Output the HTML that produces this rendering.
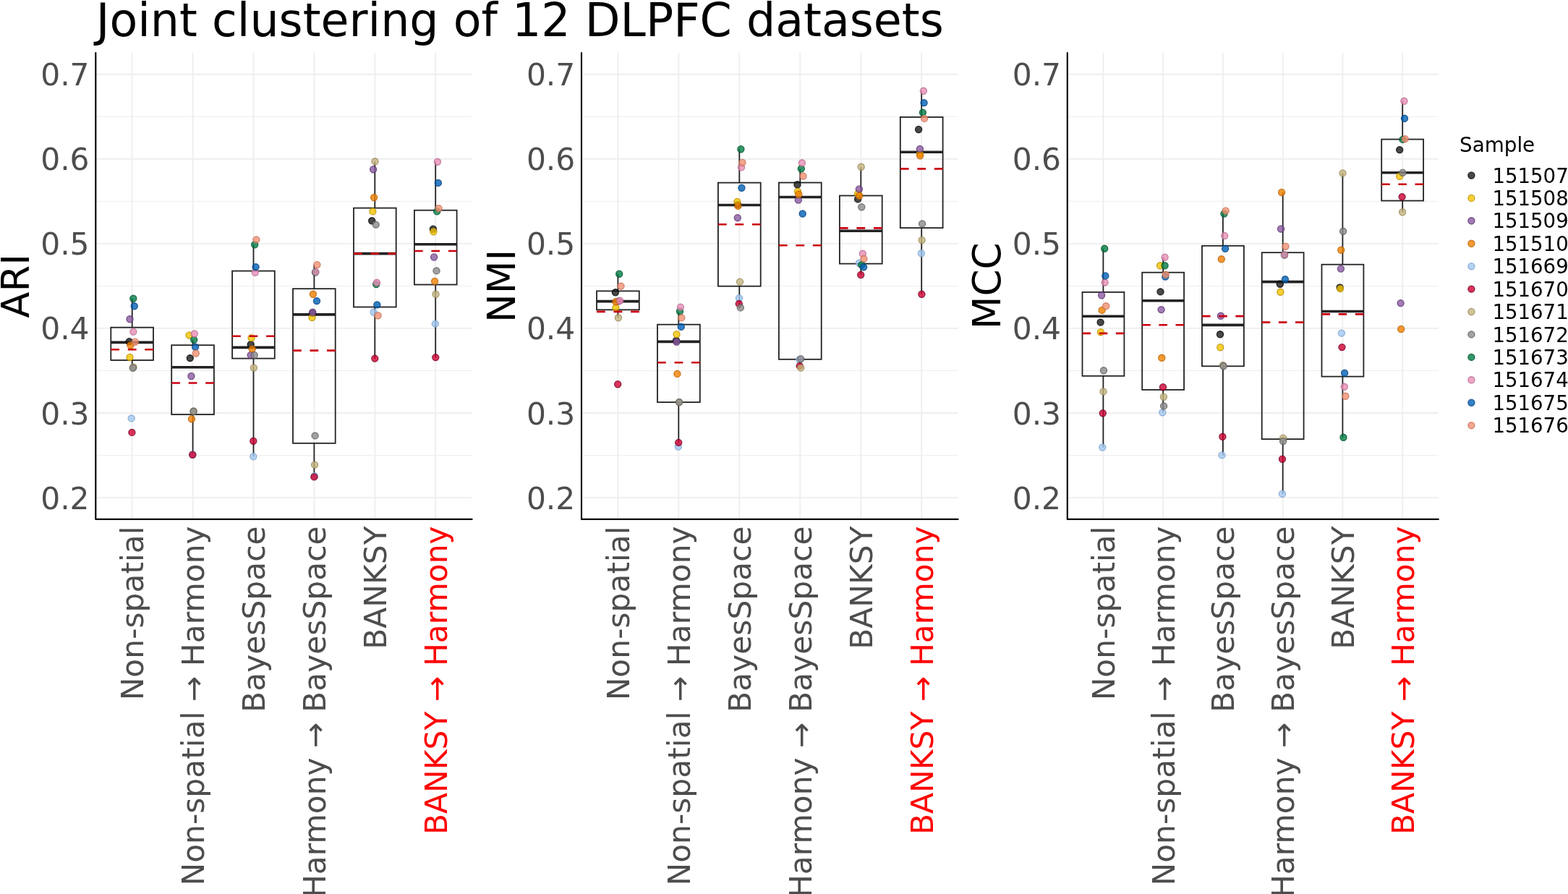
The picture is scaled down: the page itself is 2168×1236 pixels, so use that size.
<!DOCTYPE html>
<html><head><meta charset="utf-8"><title>Joint clustering of 12 DLPFC datasets</title>
<style>html,body{margin:0;padding:0;background:#fff;overflow:hidden}
svg{display:block;font-family:"DejaVu Sans","Liberation Sans",sans-serif}</style></head>
<body>
<svg width="2168" height="1236" viewBox="0 0 2168 1236">
<rect width="2168" height="1236" fill="#fff"/>
<text x="132.7" y="49.6" font-size="63.4" fill="#000">Joint clustering of 12 DLPFC datasets</text>
<line x1="132.3" y1="629.6" x2="652.6" y2="629.6" stroke="#EDEDED" stroke-width="1.0"/>
<line x1="132.3" y1="512.5" x2="652.6" y2="512.5" stroke="#EDEDED" stroke-width="1.0"/>
<line x1="132.3" y1="395.4" x2="652.6" y2="395.4" stroke="#EDEDED" stroke-width="1.0"/>
<line x1="132.3" y1="278.3" x2="652.6" y2="278.3" stroke="#EDEDED" stroke-width="1.0"/>
<line x1="132.3" y1="161.2" x2="652.6" y2="161.2" stroke="#EDEDED" stroke-width="1.0"/>
<line x1="132.3" y1="688.1" x2="652.6" y2="688.1" stroke="#EEEEEE" stroke-width="1.9"/>
<line x1="132.3" y1="571.0" x2="652.6" y2="571.0" stroke="#EEEEEE" stroke-width="1.9"/>
<line x1="132.3" y1="453.9" x2="652.6" y2="453.9" stroke="#EEEEEE" stroke-width="1.9"/>
<line x1="132.3" y1="336.9" x2="652.6" y2="336.9" stroke="#EEEEEE" stroke-width="1.9"/>
<line x1="132.3" y1="219.8" x2="652.6" y2="219.8" stroke="#EEEEEE" stroke-width="1.9"/>
<line x1="132.3" y1="102.7" x2="652.6" y2="102.7" stroke="#EEEEEE" stroke-width="1.9"/>
<line x1="182.7" y1="73.0" x2="182.7" y2="717.9" stroke="#EEEEEE" stroke-width="1.9"/>
<line x1="266.6" y1="73.0" x2="266.6" y2="717.9" stroke="#EEEEEE" stroke-width="1.9"/>
<line x1="350.5" y1="73.0" x2="350.5" y2="717.9" stroke="#EEEEEE" stroke-width="1.9"/>
<line x1="434.4" y1="73.0" x2="434.4" y2="717.9" stroke="#EEEEEE" stroke-width="1.9"/>
<line x1="518.3" y1="73.0" x2="518.3" y2="717.9" stroke="#EEEEEE" stroke-width="1.9"/>
<line x1="602.2" y1="73.0" x2="602.2" y2="717.9" stroke="#EEEEEE" stroke-width="1.9"/>
<text x="123.6" y="703.6" font-size="42.4" fill="#4D4D4D" text-anchor="end">0.2</text>
<text x="123.6" y="586.5" font-size="42.4" fill="#4D4D4D" text-anchor="end">0.3</text>
<text x="123.6" y="469.4" font-size="42.4" fill="#4D4D4D" text-anchor="end">0.4</text>
<text x="123.6" y="352.3" font-size="42.4" fill="#4D4D4D" text-anchor="end">0.5</text>
<text x="123.6" y="235.2" font-size="42.4" fill="#4D4D4D" text-anchor="end">0.6</text>
<text x="123.6" y="118.2" font-size="42.4" fill="#4D4D4D" text-anchor="end">0.7</text>
<text transform="translate(39.8,395.4) rotate(-90)" font-size="53.0" fill="#000" text-anchor="middle">ARI</text>
<text transform="translate(198.1,727.4) rotate(-90)" font-size="42.4" fill="#4D4D4D" text-anchor="end">Non-spatial</text>
<text transform="translate(282.0,727.4) rotate(-90)" font-size="42.4" fill="#4D4D4D" text-anchor="end">Non-spatial → Harmony</text>
<text transform="translate(365.9,727.4) rotate(-90)" font-size="42.4" fill="#4D4D4D" text-anchor="end">BayesSpace</text>
<text transform="translate(449.9,727.4) rotate(-90)" font-size="42.4" fill="#4D4D4D" text-anchor="end">Harmony → BayesSpace</text>
<text transform="translate(533.8,727.4) rotate(-90)" font-size="42.4" fill="#4D4D4D" text-anchor="end">BANKSY</text>
<text transform="translate(617.7,727.4) rotate(-90)" font-size="42.4" fill="#FF0000" text-anchor="end">BANKSY → Harmony</text>
<line x1="182.7" y1="412.7" x2="182.7" y2="452.7" stroke="#222" stroke-width="1.8"/>
<line x1="182.7" y1="498.0" x2="182.7" y2="508.7" stroke="#222" stroke-width="1.8"/>
<rect x="153.3" y="452.7" width="58.7" height="45.3" fill="none" stroke="#222" stroke-width="1.8"/>
<line x1="153.3" y1="473.4" x2="212.0" y2="473.4" stroke="#222" stroke-width="3.6"/>
<line x1="266.6" y1="469.7" x2="266.6" y2="477.2" stroke="#222" stroke-width="1.8"/>
<line x1="266.6" y1="573.1" x2="266.6" y2="628.5" stroke="#222" stroke-width="1.8"/>
<rect x="237.2" y="477.2" width="58.7" height="95.9" fill="none" stroke="#222" stroke-width="1.8"/>
<line x1="237.2" y1="507.7" x2="295.9" y2="507.7" stroke="#222" stroke-width="3.6"/>
<line x1="350.5" y1="338.3" x2="350.5" y2="374.6" stroke="#222" stroke-width="1.8"/>
<line x1="350.5" y1="495.6" x2="350.5" y2="631.1" stroke="#222" stroke-width="1.8"/>
<rect x="321.1" y="374.6" width="58.7" height="121.0" fill="none" stroke="#222" stroke-width="1.8"/>
<line x1="321.1" y1="480.4" x2="379.9" y2="480.4" stroke="#222" stroke-width="3.6"/>
<line x1="434.4" y1="366.1" x2="434.4" y2="399.2" stroke="#222" stroke-width="1.8"/>
<line x1="434.4" y1="612.8" x2="434.4" y2="659.4" stroke="#222" stroke-width="1.8"/>
<rect x="405.0" y="399.2" width="58.7" height="213.6" fill="none" stroke="#222" stroke-width="1.8"/>
<line x1="405.0" y1="434.9" x2="463.8" y2="434.9" stroke="#222" stroke-width="3.6"/>
<line x1="518.3" y1="223.3" x2="518.3" y2="287.6" stroke="#222" stroke-width="1.8"/>
<line x1="518.3" y1="424.5" x2="518.3" y2="495.6" stroke="#222" stroke-width="1.8"/>
<rect x="489.0" y="287.6" width="58.7" height="136.9" fill="none" stroke="#222" stroke-width="1.8"/>
<line x1="489.0" y1="350.6" x2="547.7" y2="350.6" stroke="#222" stroke-width="3.6"/>
<line x1="602.2" y1="223.8" x2="602.2" y2="290.7" stroke="#222" stroke-width="1.8"/>
<line x1="602.2" y1="393.5" x2="602.2" y2="494.1" stroke="#222" stroke-width="1.8"/>
<rect x="572.9" y="290.7" width="58.7" height="102.8" fill="none" stroke="#222" stroke-width="1.8"/>
<line x1="572.9" y1="337.8" x2="631.6" y2="337.8" stroke="#222" stroke-width="3.6"/>
<circle cx="178.7" cy="472.2" r="4.55" fill="#1A1A1A" fill-opacity="0.8" stroke="#000000" stroke-opacity="0.8" stroke-width="1.3"/>
<circle cx="179.5" cy="494.0" r="4.55" fill="#F2C300" fill-opacity="0.8" stroke="#BD9100" stroke-opacity="0.8" stroke-width="1.3"/>
<circle cx="179.5" cy="441.3" r="4.55" fill="#8B5BA1" fill-opacity="0.8" stroke="#5D3576" stroke-opacity="0.8" stroke-width="1.3"/>
<circle cx="180.4" cy="477.3" r="4.55" fill="#F08100" fill-opacity="0.8" stroke="#BC6000" stroke-opacity="0.8" stroke-width="1.3"/>
<circle cx="181.7" cy="578.4" r="4.55" fill="#A2C7EF" fill-opacity="0.8" stroke="#7BA2D0" stroke-opacity="0.8" stroke-width="1.3"/>
<circle cx="182.4" cy="597.9" r="4.55" fill="#D00031" fill-opacity="0.8" stroke="#770025" stroke-opacity="0.8" stroke-width="1.3"/>
<circle cx="184.5" cy="507.5" r="4.55" fill="#C4B47E" fill-opacity="0.8" stroke="#988857" stroke-opacity="0.8" stroke-width="1.3"/>
<circle cx="183.8" cy="508.7" r="4.55" fill="#8B8B8B" fill-opacity="0.8" stroke="#5E5E5E" stroke-opacity="0.8" stroke-width="1.3"/>
<circle cx="184.3" cy="412.7" r="4.55" fill="#007D45" fill-opacity="0.8" stroke="#00532D" stroke-opacity="0.8" stroke-width="1.3"/>
<circle cx="184.3" cy="458.6" r="4.55" fill="#E88DB6" fill-opacity="0.8" stroke="#B86A90" stroke-opacity="0.8" stroke-width="1.3"/>
<circle cx="185.8" cy="423.3" r="4.55" fill="#0060B5" fill-opacity="0.8" stroke="#004181" stroke-opacity="0.8" stroke-width="1.3"/>
<circle cx="186.8" cy="472.7" r="4.55" fill="#F19072" fill-opacity="0.8" stroke="#C67055" stroke-opacity="0.8" stroke-width="1.3"/>
<circle cx="262.8" cy="495.1" r="4.55" fill="#1A1A1A" fill-opacity="0.8" stroke="#000000" stroke-opacity="0.8" stroke-width="1.3"/>
<circle cx="261.6" cy="463.5" r="4.55" fill="#F2C300" fill-opacity="0.8" stroke="#BD9100" stroke-opacity="0.8" stroke-width="1.3"/>
<circle cx="264.4" cy="520.0" r="4.55" fill="#8B5BA1" fill-opacity="0.8" stroke="#5D3576" stroke-opacity="0.8" stroke-width="1.3"/>
<circle cx="265.0" cy="579.2" r="4.55" fill="#F08100" fill-opacity="0.8" stroke="#BC6000" stroke-opacity="0.8" stroke-width="1.3"/>
<circle cx="266.3" cy="628.5" r="4.55" fill="#A2C7EF" fill-opacity="0.8" stroke="#7BA2D0" stroke-opacity="0.8" stroke-width="1.3"/>
<circle cx="266.3" cy="628.7" r="4.55" fill="#D00031" fill-opacity="0.8" stroke="#770025" stroke-opacity="0.8" stroke-width="1.3"/>
<circle cx="267.6" cy="568.4" r="4.55" fill="#C4B47E" fill-opacity="0.8" stroke="#988857" stroke-opacity="0.8" stroke-width="1.3"/>
<circle cx="267.6" cy="568.8" r="4.55" fill="#8B8B8B" fill-opacity="0.8" stroke="#5E5E5E" stroke-opacity="0.8" stroke-width="1.3"/>
<circle cx="268.2" cy="469.7" r="4.55" fill="#007D45" fill-opacity="0.8" stroke="#00532D" stroke-opacity="0.8" stroke-width="1.3"/>
<circle cx="268.8" cy="461.5" r="4.55" fill="#E88DB6" fill-opacity="0.8" stroke="#B86A90" stroke-opacity="0.8" stroke-width="1.3"/>
<circle cx="270.1" cy="479.7" r="4.55" fill="#0060B5" fill-opacity="0.8" stroke="#004181" stroke-opacity="0.8" stroke-width="1.3"/>
<circle cx="270.8" cy="488.5" r="4.55" fill="#F19072" fill-opacity="0.8" stroke="#C67055" stroke-opacity="0.8" stroke-width="1.3"/>
<circle cx="346.7" cy="476.3" r="4.55" fill="#1A1A1A" fill-opacity="0.8" stroke="#000000" stroke-opacity="0.8" stroke-width="1.3"/>
<circle cx="347.6" cy="467.3" r="4.55" fill="#F2C300" fill-opacity="0.8" stroke="#BD9100" stroke-opacity="0.8" stroke-width="1.3"/>
<circle cx="346.7" cy="490.9" r="4.55" fill="#8B5BA1" fill-opacity="0.8" stroke="#5D3576" stroke-opacity="0.8" stroke-width="1.3"/>
<circle cx="348.7" cy="482.6" r="4.55" fill="#F08100" fill-opacity="0.8" stroke="#BC6000" stroke-opacity="0.8" stroke-width="1.3"/>
<circle cx="350.3" cy="631.1" r="4.55" fill="#A2C7EF" fill-opacity="0.8" stroke="#7BA2D0" stroke-opacity="0.8" stroke-width="1.3"/>
<circle cx="350.3" cy="609.7" r="4.55" fill="#D00031" fill-opacity="0.8" stroke="#770025" stroke-opacity="0.8" stroke-width="1.3"/>
<circle cx="350.9" cy="508.5" r="4.55" fill="#C4B47E" fill-opacity="0.8" stroke="#988857" stroke-opacity="0.8" stroke-width="1.3"/>
<circle cx="351.7" cy="490.9" r="4.55" fill="#8B8B8B" fill-opacity="0.8" stroke="#5E5E5E" stroke-opacity="0.8" stroke-width="1.3"/>
<circle cx="352.2" cy="338.3" r="4.55" fill="#007D45" fill-opacity="0.8" stroke="#00532D" stroke-opacity="0.8" stroke-width="1.3"/>
<circle cx="352.8" cy="376.8" r="4.55" fill="#E88DB6" fill-opacity="0.8" stroke="#B86A90" stroke-opacity="0.8" stroke-width="1.3"/>
<circle cx="353.6" cy="369.1" r="4.55" fill="#0060B5" fill-opacity="0.8" stroke="#004181" stroke-opacity="0.8" stroke-width="1.3"/>
<circle cx="354.4" cy="331.4" r="4.55" fill="#F19072" fill-opacity="0.8" stroke="#C67055" stroke-opacity="0.8" stroke-width="1.3"/>
<circle cx="432.0" cy="433.0" r="4.55" fill="#1A1A1A" fill-opacity="0.8" stroke="#000000" stroke-opacity="0.8" stroke-width="1.3"/>
<circle cx="431.5" cy="439.1" r="4.55" fill="#F2C300" fill-opacity="0.8" stroke="#BD9100" stroke-opacity="0.8" stroke-width="1.3"/>
<circle cx="432.3" cy="431.8" r="4.55" fill="#8B5BA1" fill-opacity="0.8" stroke="#5D3576" stroke-opacity="0.8" stroke-width="1.3"/>
<circle cx="432.9" cy="406.8" r="4.55" fill="#F08100" fill-opacity="0.8" stroke="#BC6000" stroke-opacity="0.8" stroke-width="1.3"/>
<circle cx="434.8" cy="658.0" r="4.55" fill="#A2C7EF" fill-opacity="0.8" stroke="#7BA2D0" stroke-opacity="0.8" stroke-width="1.3"/>
<circle cx="434.4" cy="659.4" r="4.55" fill="#D00031" fill-opacity="0.8" stroke="#770025" stroke-opacity="0.8" stroke-width="1.3"/>
<circle cx="435.1" cy="642.6" r="4.55" fill="#C4B47E" fill-opacity="0.8" stroke="#988857" stroke-opacity="0.8" stroke-width="1.3"/>
<circle cx="435.6" cy="602.4" r="4.55" fill="#8B8B8B" fill-opacity="0.8" stroke="#5E5E5E" stroke-opacity="0.8" stroke-width="1.3"/>
<circle cx="436.0" cy="376.5" r="4.55" fill="#007D45" fill-opacity="0.8" stroke="#00532D" stroke-opacity="0.8" stroke-width="1.3"/>
<circle cx="436.5" cy="376.1" r="4.55" fill="#E88DB6" fill-opacity="0.8" stroke="#B86A90" stroke-opacity="0.8" stroke-width="1.3"/>
<circle cx="438.0" cy="416.1" r="4.55" fill="#0060B5" fill-opacity="0.8" stroke="#004181" stroke-opacity="0.8" stroke-width="1.3"/>
<circle cx="438.4" cy="366.1" r="4.55" fill="#F19072" fill-opacity="0.8" stroke="#C67055" stroke-opacity="0.8" stroke-width="1.3"/>
<circle cx="514.2" cy="305.3" r="4.55" fill="#1A1A1A" fill-opacity="0.8" stroke="#000000" stroke-opacity="0.8" stroke-width="1.3"/>
<circle cx="515.4" cy="292.4" r="4.55" fill="#F2C300" fill-opacity="0.8" stroke="#BD9100" stroke-opacity="0.8" stroke-width="1.3"/>
<circle cx="516.1" cy="234.2" r="4.55" fill="#8B5BA1" fill-opacity="0.8" stroke="#5D3576" stroke-opacity="0.8" stroke-width="1.3"/>
<circle cx="517.1" cy="273.0" r="4.55" fill="#F08100" fill-opacity="0.8" stroke="#BC6000" stroke-opacity="0.8" stroke-width="1.3"/>
<circle cx="516.6" cy="431.8" r="4.55" fill="#A2C7EF" fill-opacity="0.8" stroke="#7BA2D0" stroke-opacity="0.8" stroke-width="1.3"/>
<circle cx="518.3" cy="495.6" r="4.55" fill="#D00031" fill-opacity="0.8" stroke="#770025" stroke-opacity="0.8" stroke-width="1.3"/>
<circle cx="518.5" cy="223.3" r="4.55" fill="#C4B47E" fill-opacity="0.8" stroke="#988857" stroke-opacity="0.8" stroke-width="1.3"/>
<circle cx="519.7" cy="310.6" r="4.55" fill="#8B8B8B" fill-opacity="0.8" stroke="#5E5E5E" stroke-opacity="0.8" stroke-width="1.3"/>
<circle cx="520.2" cy="393.0" r="4.55" fill="#007D45" fill-opacity="0.8" stroke="#00532D" stroke-opacity="0.8" stroke-width="1.3"/>
<circle cx="521.0" cy="390.6" r="4.55" fill="#E88DB6" fill-opacity="0.8" stroke="#B86A90" stroke-opacity="0.8" stroke-width="1.3"/>
<circle cx="521.4" cy="421.4" r="4.55" fill="#0060B5" fill-opacity="0.8" stroke="#004181" stroke-opacity="0.8" stroke-width="1.3"/>
<circle cx="522.6" cy="436.2" r="4.55" fill="#F19072" fill-opacity="0.8" stroke="#C67055" stroke-opacity="0.8" stroke-width="1.3"/>
<circle cx="598.9" cy="316.7" r="4.55" fill="#1A1A1A" fill-opacity="0.8" stroke="#000000" stroke-opacity="0.8" stroke-width="1.3"/>
<circle cx="599.4" cy="320.3" r="4.55" fill="#F2C300" fill-opacity="0.8" stroke="#BD9100" stroke-opacity="0.8" stroke-width="1.3"/>
<circle cx="600.1" cy="355.5" r="4.55" fill="#8B5BA1" fill-opacity="0.8" stroke="#5D3576" stroke-opacity="0.8" stroke-width="1.3"/>
<circle cx="601.1" cy="388.9" r="4.55" fill="#F08100" fill-opacity="0.8" stroke="#BC6000" stroke-opacity="0.8" stroke-width="1.3"/>
<circle cx="601.8" cy="447.6" r="4.55" fill="#A2C7EF" fill-opacity="0.8" stroke="#7BA2D0" stroke-opacity="0.8" stroke-width="1.3"/>
<circle cx="602.3" cy="494.1" r="4.55" fill="#D00031" fill-opacity="0.8" stroke="#770025" stroke-opacity="0.8" stroke-width="1.3"/>
<circle cx="602.5" cy="406.8" r="4.55" fill="#C4B47E" fill-opacity="0.8" stroke="#988857" stroke-opacity="0.8" stroke-width="1.3"/>
<circle cx="603.5" cy="374.4" r="4.55" fill="#8B8B8B" fill-opacity="0.8" stroke="#5E5E5E" stroke-opacity="0.8" stroke-width="1.3"/>
<circle cx="604.2" cy="292.4" r="4.55" fill="#007D45" fill-opacity="0.8" stroke="#00532D" stroke-opacity="0.8" stroke-width="1.3"/>
<circle cx="604.9" cy="223.8" r="4.55" fill="#E88DB6" fill-opacity="0.8" stroke="#B86A90" stroke-opacity="0.8" stroke-width="1.3"/>
<circle cx="605.9" cy="252.9" r="4.55" fill="#0060B5" fill-opacity="0.8" stroke="#004181" stroke-opacity="0.8" stroke-width="1.3"/>
<circle cx="606.6" cy="288.1" r="4.55" fill="#F19072" fill-opacity="0.8" stroke="#C67055" stroke-opacity="0.8" stroke-width="1.3"/>
<line x1="153.3" y1="483.2" x2="212.0" y2="483.2" stroke="#CC0010" stroke-width="2.6" stroke-dasharray="11.75 11.75"/>
<line x1="237.2" y1="529.5" x2="295.9" y2="529.5" stroke="#CC0010" stroke-width="2.6" stroke-dasharray="11.75 11.75"/>
<line x1="321.1" y1="464.8" x2="379.9" y2="464.8" stroke="#CC0010" stroke-width="2.6" stroke-dasharray="11.75 11.75"/>
<line x1="405.0" y1="484.6" x2="463.8" y2="484.6" stroke="#CC0010" stroke-width="2.6" stroke-dasharray="11.75 11.75"/>
<line x1="489.0" y1="350.6" x2="547.7" y2="350.6" stroke="#CC0010" stroke-width="2.6" stroke-dasharray="11.75 11.75"/>
<line x1="572.9" y1="347.0" x2="631.6" y2="347.0" stroke="#CC0010" stroke-width="2.6" stroke-dasharray="11.75 11.75"/>
<path d="M132.3 73.0 V717.9 H652.6" fill="none" stroke="#000" stroke-width="2.1" stroke-linecap="round" stroke-linejoin="round"/>
<line x1="804.0" y1="629.6" x2="1324.6" y2="629.6" stroke="#EDEDED" stroke-width="1.0"/>
<line x1="804.0" y1="512.5" x2="1324.6" y2="512.5" stroke="#EDEDED" stroke-width="1.0"/>
<line x1="804.0" y1="395.4" x2="1324.6" y2="395.4" stroke="#EDEDED" stroke-width="1.0"/>
<line x1="804.0" y1="278.3" x2="1324.6" y2="278.3" stroke="#EDEDED" stroke-width="1.0"/>
<line x1="804.0" y1="161.2" x2="1324.6" y2="161.2" stroke="#EDEDED" stroke-width="1.0"/>
<line x1="804.0" y1="688.1" x2="1324.6" y2="688.1" stroke="#EEEEEE" stroke-width="1.9"/>
<line x1="804.0" y1="571.0" x2="1324.6" y2="571.0" stroke="#EEEEEE" stroke-width="1.9"/>
<line x1="804.0" y1="453.9" x2="1324.6" y2="453.9" stroke="#EEEEEE" stroke-width="1.9"/>
<line x1="804.0" y1="336.9" x2="1324.6" y2="336.9" stroke="#EEEEEE" stroke-width="1.9"/>
<line x1="804.0" y1="219.8" x2="1324.6" y2="219.8" stroke="#EEEEEE" stroke-width="1.9"/>
<line x1="804.0" y1="102.7" x2="1324.6" y2="102.7" stroke="#EEEEEE" stroke-width="1.9"/>
<line x1="854.4" y1="73.0" x2="854.4" y2="717.9" stroke="#EEEEEE" stroke-width="1.9"/>
<line x1="938.3" y1="73.0" x2="938.3" y2="717.9" stroke="#EEEEEE" stroke-width="1.9"/>
<line x1="1022.3" y1="73.0" x2="1022.3" y2="717.9" stroke="#EEEEEE" stroke-width="1.9"/>
<line x1="1106.3" y1="73.0" x2="1106.3" y2="717.9" stroke="#EEEEEE" stroke-width="1.9"/>
<line x1="1190.3" y1="73.0" x2="1190.3" y2="717.9" stroke="#EEEEEE" stroke-width="1.9"/>
<line x1="1274.2" y1="73.0" x2="1274.2" y2="717.9" stroke="#EEEEEE" stroke-width="1.9"/>
<text x="795.3" y="703.6" font-size="42.4" fill="#4D4D4D" text-anchor="end">0.2</text>
<text x="795.3" y="586.5" font-size="42.4" fill="#4D4D4D" text-anchor="end">0.3</text>
<text x="795.3" y="469.4" font-size="42.4" fill="#4D4D4D" text-anchor="end">0.4</text>
<text x="795.3" y="352.3" font-size="42.4" fill="#4D4D4D" text-anchor="end">0.5</text>
<text x="795.3" y="235.2" font-size="42.4" fill="#4D4D4D" text-anchor="end">0.6</text>
<text x="795.3" y="118.2" font-size="42.4" fill="#4D4D4D" text-anchor="end">0.7</text>
<text transform="translate(711.7,395.4) rotate(-90)" font-size="53.0" fill="#000" text-anchor="middle">NMI</text>
<text transform="translate(869.8,727.4) rotate(-90)" font-size="42.4" fill="#4D4D4D" text-anchor="end">Non-spatial</text>
<text transform="translate(953.8,727.4) rotate(-90)" font-size="42.4" fill="#4D4D4D" text-anchor="end">Non-spatial → Harmony</text>
<text transform="translate(1037.8,727.4) rotate(-90)" font-size="42.4" fill="#4D4D4D" text-anchor="end">BayesSpace</text>
<text transform="translate(1121.7,727.4) rotate(-90)" font-size="42.4" fill="#4D4D4D" text-anchor="end">Harmony → BayesSpace</text>
<text transform="translate(1205.7,727.4) rotate(-90)" font-size="42.4" fill="#4D4D4D" text-anchor="end">BANKSY</text>
<text transform="translate(1289.7,727.4) rotate(-90)" font-size="42.4" fill="#FF0000" text-anchor="end">BANKSY → Harmony</text>
<line x1="854.4" y1="378.7" x2="854.4" y2="402.4" stroke="#222" stroke-width="1.8"/>
<line x1="854.4" y1="428.3" x2="854.4" y2="439.3" stroke="#222" stroke-width="1.8"/>
<rect x="825.0" y="402.4" width="58.8" height="25.9" fill="none" stroke="#222" stroke-width="1.8"/>
<line x1="825.0" y1="416.6" x2="883.8" y2="416.6" stroke="#222" stroke-width="3.6"/>
<line x1="938.3" y1="432.0" x2="938.3" y2="448.7" stroke="#222" stroke-width="1.8"/>
<line x1="938.3" y1="556.1" x2="938.3" y2="611.9" stroke="#222" stroke-width="1.8"/>
<rect x="909.0" y="448.7" width="58.8" height="107.4" fill="none" stroke="#222" stroke-width="1.8"/>
<line x1="909.0" y1="472.4" x2="967.7" y2="472.4" stroke="#222" stroke-width="3.6"/>
<line x1="1022.3" y1="206.2" x2="1022.3" y2="252.6" stroke="#222" stroke-width="1.8"/>
<line x1="1022.3" y1="395.7" x2="1022.3" y2="426.0" stroke="#222" stroke-width="1.8"/>
<rect x="992.9" y="252.6" width="58.8" height="143.1" fill="none" stroke="#222" stroke-width="1.8"/>
<line x1="992.9" y1="283.5" x2="1051.7" y2="283.5" stroke="#222" stroke-width="3.6"/>
<line x1="1106.3" y1="233.3" x2="1106.3" y2="252.5" stroke="#222" stroke-width="1.8"/>
<line x1="1106.3" y1="496.8" x2="1106.3" y2="508.5" stroke="#222" stroke-width="1.8"/>
<rect x="1076.9" y="252.5" width="58.8" height="244.3" fill="none" stroke="#222" stroke-width="1.8"/>
<line x1="1076.9" y1="272.5" x2="1135.7" y2="272.5" stroke="#222" stroke-width="3.6"/>
<line x1="1190.3" y1="230.8" x2="1190.3" y2="270.5" stroke="#222" stroke-width="1.8"/>
<line x1="1190.3" y1="364.6" x2="1190.3" y2="380.0" stroke="#222" stroke-width="1.8"/>
<rect x="1160.9" y="270.5" width="58.8" height="94.1" fill="none" stroke="#222" stroke-width="1.8"/>
<line x1="1160.9" y1="319.2" x2="1219.6" y2="319.2" stroke="#222" stroke-width="3.6"/>
<line x1="1274.2" y1="125.8" x2="1274.2" y2="161.9" stroke="#222" stroke-width="1.8"/>
<line x1="1274.2" y1="315.1" x2="1274.2" y2="406.7" stroke="#222" stroke-width="1.8"/>
<rect x="1244.8" y="161.9" width="58.8" height="153.2" fill="none" stroke="#222" stroke-width="1.8"/>
<line x1="1244.8" y1="210.3" x2="1303.6" y2="210.3" stroke="#222" stroke-width="3.6"/>
<circle cx="850.9" cy="404.3" r="4.55" fill="#1A1A1A" fill-opacity="0.8" stroke="#000000" stroke-opacity="0.8" stroke-width="1.3"/>
<circle cx="851.4" cy="425.4" r="4.55" fill="#F2C300" fill-opacity="0.8" stroke="#BD9100" stroke-opacity="0.8" stroke-width="1.3"/>
<circle cx="855.0" cy="416.5" r="4.55" fill="#8B5BA1" fill-opacity="0.8" stroke="#5D3576" stroke-opacity="0.8" stroke-width="1.3"/>
<circle cx="851.4" cy="417.3" r="4.55" fill="#F08100" fill-opacity="0.8" stroke="#BC6000" stroke-opacity="0.8" stroke-width="1.3"/>
<circle cx="854.2" cy="531.2" r="4.55" fill="#D00031" fill-opacity="0.8" stroke="#770025" stroke-opacity="0.8" stroke-width="1.3"/>
<circle cx="854.9" cy="439.3" r="4.55" fill="#C4B47E" fill-opacity="0.8" stroke="#988857" stroke-opacity="0.8" stroke-width="1.3"/>
<circle cx="856.2" cy="378.7" r="4.55" fill="#007D45" fill-opacity="0.8" stroke="#00532D" stroke-opacity="0.8" stroke-width="1.3"/>
<circle cx="857.2" cy="415.7" r="4.55" fill="#E88DB6" fill-opacity="0.8" stroke="#B86A90" stroke-opacity="0.8" stroke-width="1.3"/>
<circle cx="858.5" cy="395.6" r="4.55" fill="#F19072" fill-opacity="0.8" stroke="#C67055" stroke-opacity="0.8" stroke-width="1.3"/>
<circle cx="935.0" cy="471.0" r="4.55" fill="#1A1A1A" fill-opacity="0.8" stroke="#000000" stroke-opacity="0.8" stroke-width="1.3"/>
<circle cx="935.5" cy="462.2" r="4.55" fill="#F2C300" fill-opacity="0.8" stroke="#BD9100" stroke-opacity="0.8" stroke-width="1.3"/>
<circle cx="935.5" cy="472.7" r="4.55" fill="#8B5BA1" fill-opacity="0.8" stroke="#5D3576" stroke-opacity="0.8" stroke-width="1.3"/>
<circle cx="936.4" cy="516.9" r="4.55" fill="#F08100" fill-opacity="0.8" stroke="#BC6000" stroke-opacity="0.8" stroke-width="1.3"/>
<circle cx="937.8" cy="617.6" r="4.55" fill="#A2C7EF" fill-opacity="0.8" stroke="#7BA2D0" stroke-opacity="0.8" stroke-width="1.3"/>
<circle cx="938.2" cy="611.9" r="4.55" fill="#D00031" fill-opacity="0.8" stroke="#770025" stroke-opacity="0.8" stroke-width="1.3"/>
<circle cx="939.0" cy="556.0" r="4.55" fill="#C4B47E" fill-opacity="0.8" stroke="#988857" stroke-opacity="0.8" stroke-width="1.3"/>
<circle cx="939.1" cy="556.1" r="4.55" fill="#8B8B8B" fill-opacity="0.8" stroke="#5E5E5E" stroke-opacity="0.8" stroke-width="1.3"/>
<circle cx="940.0" cy="430.5" r="4.55" fill="#007D45" fill-opacity="0.8" stroke="#00532D" stroke-opacity="0.8" stroke-width="1.3"/>
<circle cx="940.9" cy="424.6" r="4.55" fill="#E88DB6" fill-opacity="0.8" stroke="#B86A90" stroke-opacity="0.8" stroke-width="1.3"/>
<circle cx="941.8" cy="451.9" r="4.55" fill="#0060B5" fill-opacity="0.8" stroke="#004181" stroke-opacity="0.8" stroke-width="1.3"/>
<circle cx="942.3" cy="439.4" r="4.55" fill="#F19072" fill-opacity="0.8" stroke="#C67055" stroke-opacity="0.8" stroke-width="1.3"/>
<circle cx="1020.0" cy="283.0" r="4.55" fill="#1A1A1A" fill-opacity="0.8" stroke="#000000" stroke-opacity="0.8" stroke-width="1.3"/>
<circle cx="1019.4" cy="278.9" r="4.55" fill="#F2C300" fill-opacity="0.8" stroke="#BD9100" stroke-opacity="0.8" stroke-width="1.3"/>
<circle cx="1019.8" cy="301.1" r="4.55" fill="#8B5BA1" fill-opacity="0.8" stroke="#5D3576" stroke-opacity="0.8" stroke-width="1.3"/>
<circle cx="1020.4" cy="284.9" r="4.55" fill="#F08100" fill-opacity="0.8" stroke="#BC6000" stroke-opacity="0.8" stroke-width="1.3"/>
<circle cx="1022.0" cy="412.2" r="4.55" fill="#A2C7EF" fill-opacity="0.8" stroke="#7BA2D0" stroke-opacity="0.8" stroke-width="1.3"/>
<circle cx="1021.8" cy="419.9" r="4.55" fill="#D00031" fill-opacity="0.8" stroke="#770025" stroke-opacity="0.8" stroke-width="1.3"/>
<circle cx="1023.0" cy="389.6" r="4.55" fill="#C4B47E" fill-opacity="0.8" stroke="#988857" stroke-opacity="0.8" stroke-width="1.3"/>
<circle cx="1023.8" cy="425.4" r="4.55" fill="#8B8B8B" fill-opacity="0.8" stroke="#5E5E5E" stroke-opacity="0.8" stroke-width="1.3"/>
<circle cx="1024.4" cy="206.2" r="4.55" fill="#007D45" fill-opacity="0.8" stroke="#00532D" stroke-opacity="0.8" stroke-width="1.3"/>
<circle cx="1025.0" cy="231.4" r="4.55" fill="#E88DB6" fill-opacity="0.8" stroke="#B86A90" stroke-opacity="0.8" stroke-width="1.3"/>
<circle cx="1025.4" cy="259.7" r="4.55" fill="#0060B5" fill-opacity="0.8" stroke="#004181" stroke-opacity="0.8" stroke-width="1.3"/>
<circle cx="1026.4" cy="224.7" r="4.55" fill="#F19072" fill-opacity="0.8" stroke="#C67055" stroke-opacity="0.8" stroke-width="1.3"/>
<circle cx="1102.5" cy="255.2" r="4.55" fill="#1A1A1A" fill-opacity="0.8" stroke="#000000" stroke-opacity="0.8" stroke-width="1.3"/>
<circle cx="1103.0" cy="264.8" r="4.55" fill="#F2C300" fill-opacity="0.8" stroke="#BD9100" stroke-opacity="0.8" stroke-width="1.3"/>
<circle cx="1103.8" cy="276.5" r="4.55" fill="#8B5BA1" fill-opacity="0.8" stroke="#5D3576" stroke-opacity="0.8" stroke-width="1.3"/>
<circle cx="1104.3" cy="268.8" r="4.55" fill="#F08100" fill-opacity="0.8" stroke="#BC6000" stroke-opacity="0.8" stroke-width="1.3"/>
<circle cx="1105.2" cy="497.2" r="4.55" fill="#A2C7EF" fill-opacity="0.8" stroke="#7BA2D0" stroke-opacity="0.8" stroke-width="1.3"/>
<circle cx="1105.7" cy="505.9" r="4.55" fill="#D00031" fill-opacity="0.8" stroke="#770025" stroke-opacity="0.8" stroke-width="1.3"/>
<circle cx="1107.2" cy="508.6" r="4.55" fill="#C4B47E" fill-opacity="0.8" stroke="#988857" stroke-opacity="0.8" stroke-width="1.3"/>
<circle cx="1107.2" cy="496.2" r="4.55" fill="#8B8B8B" fill-opacity="0.8" stroke="#5E5E5E" stroke-opacity="0.8" stroke-width="1.3"/>
<circle cx="1107.8" cy="233.3" r="4.55" fill="#007D45" fill-opacity="0.8" stroke="#00532D" stroke-opacity="0.8" stroke-width="1.3"/>
<circle cx="1108.9" cy="225.3" r="4.55" fill="#E88DB6" fill-opacity="0.8" stroke="#B86A90" stroke-opacity="0.8" stroke-width="1.3"/>
<circle cx="1109.7" cy="295.5" r="4.55" fill="#0060B5" fill-opacity="0.8" stroke="#004181" stroke-opacity="0.8" stroke-width="1.3"/>
<circle cx="1110.5" cy="243.5" r="4.55" fill="#F19072" fill-opacity="0.8" stroke="#C67055" stroke-opacity="0.8" stroke-width="1.3"/>
<circle cx="1186.1" cy="275.4" r="4.55" fill="#1A1A1A" fill-opacity="0.8" stroke="#000000" stroke-opacity="0.8" stroke-width="1.3"/>
<circle cx="1186.1" cy="267.7" r="4.55" fill="#F2C300" fill-opacity="0.8" stroke="#BD9100" stroke-opacity="0.8" stroke-width="1.3"/>
<circle cx="1187.9" cy="261.5" r="4.55" fill="#8B5BA1" fill-opacity="0.8" stroke="#5D3576" stroke-opacity="0.8" stroke-width="1.3"/>
<circle cx="1188.2" cy="270.8" r="4.55" fill="#F08100" fill-opacity="0.8" stroke="#BC6000" stroke-opacity="0.8" stroke-width="1.3"/>
<circle cx="1187.9" cy="363.8" r="4.55" fill="#A2C7EF" fill-opacity="0.8" stroke="#7BA2D0" stroke-opacity="0.8" stroke-width="1.3"/>
<circle cx="1190.2" cy="380.0" r="4.55" fill="#D00031" fill-opacity="0.8" stroke="#770025" stroke-opacity="0.8" stroke-width="1.3"/>
<circle cx="1190.7" cy="230.8" r="4.55" fill="#C4B47E" fill-opacity="0.8" stroke="#988857" stroke-opacity="0.8" stroke-width="1.3"/>
<circle cx="1191.3" cy="286.2" r="4.55" fill="#8B8B8B" fill-opacity="0.8" stroke="#5E5E5E" stroke-opacity="0.8" stroke-width="1.3"/>
<circle cx="1191.3" cy="366.2" r="4.55" fill="#007D45" fill-opacity="0.8" stroke="#00532D" stroke-opacity="0.8" stroke-width="1.3"/>
<circle cx="1192.8" cy="350.8" r="4.55" fill="#E88DB6" fill-opacity="0.8" stroke="#B86A90" stroke-opacity="0.8" stroke-width="1.3"/>
<circle cx="1194.1" cy="369.2" r="4.55" fill="#0060B5" fill-opacity="0.8" stroke="#004181" stroke-opacity="0.8" stroke-width="1.3"/>
<circle cx="1194.4" cy="357.7" r="4.55" fill="#F19072" fill-opacity="0.8" stroke="#C67055" stroke-opacity="0.8" stroke-width="1.3"/>
<circle cx="1270.1" cy="179.0" r="4.55" fill="#1A1A1A" fill-opacity="0.8" stroke="#000000" stroke-opacity="0.8" stroke-width="1.3"/>
<circle cx="1272.0" cy="213.0" r="4.55" fill="#F2C300" fill-opacity="0.8" stroke="#BD9100" stroke-opacity="0.8" stroke-width="1.3"/>
<circle cx="1271.9" cy="206.0" r="4.55" fill="#8B5BA1" fill-opacity="0.8" stroke="#5D3576" stroke-opacity="0.8" stroke-width="1.3"/>
<circle cx="1272.1" cy="215.3" r="4.55" fill="#F08100" fill-opacity="0.8" stroke="#BC6000" stroke-opacity="0.8" stroke-width="1.3"/>
<circle cx="1273.9" cy="350.3" r="4.55" fill="#A2C7EF" fill-opacity="0.8" stroke="#7BA2D0" stroke-opacity="0.8" stroke-width="1.3"/>
<circle cx="1274.4" cy="406.7" r="4.55" fill="#D00031" fill-opacity="0.8" stroke="#770025" stroke-opacity="0.8" stroke-width="1.3"/>
<circle cx="1274.6" cy="332.0" r="4.55" fill="#C4B47E" fill-opacity="0.8" stroke="#988857" stroke-opacity="0.8" stroke-width="1.3"/>
<circle cx="1275.1" cy="309.4" r="4.55" fill="#8B8B8B" fill-opacity="0.8" stroke="#5E5E5E" stroke-opacity="0.8" stroke-width="1.3"/>
<circle cx="1275.9" cy="155.6" r="4.55" fill="#007D45" fill-opacity="0.8" stroke="#00532D" stroke-opacity="0.8" stroke-width="1.3"/>
<circle cx="1276.9" cy="125.8" r="4.55" fill="#E88DB6" fill-opacity="0.8" stroke="#B86A90" stroke-opacity="0.8" stroke-width="1.3"/>
<circle cx="1277.6" cy="142.1" r="4.55" fill="#0060B5" fill-opacity="0.8" stroke="#004181" stroke-opacity="0.8" stroke-width="1.3"/>
<circle cx="1278.1" cy="163.9" r="4.55" fill="#F19072" fill-opacity="0.8" stroke="#C67055" stroke-opacity="0.8" stroke-width="1.3"/>
<line x1="825.0" y1="430.9" x2="883.8" y2="430.9" stroke="#CC0010" stroke-width="2.6" stroke-dasharray="11.76 11.76"/>
<line x1="909.0" y1="501.2" x2="967.7" y2="501.2" stroke="#CC0010" stroke-width="2.6" stroke-dasharray="11.76 11.76"/>
<line x1="992.9" y1="310.2" x2="1051.7" y2="310.2" stroke="#CC0010" stroke-width="2.6" stroke-dasharray="11.76 11.76"/>
<line x1="1076.9" y1="339.2" x2="1135.7" y2="339.2" stroke="#CC0010" stroke-width="2.6" stroke-dasharray="11.76 11.76"/>
<line x1="1160.9" y1="315.4" x2="1219.6" y2="315.4" stroke="#CC0010" stroke-width="2.6" stroke-dasharray="11.76 11.76"/>
<line x1="1244.8" y1="233.4" x2="1303.6" y2="233.4" stroke="#CC0010" stroke-width="2.6" stroke-dasharray="11.76 11.76"/>
<path d="M804.0 73.0 V717.9 H1324.6" fill="none" stroke="#000" stroke-width="2.1" stroke-linecap="round" stroke-linejoin="round"/>
<line x1="1475.8" y1="629.6" x2="1988.8" y2="629.6" stroke="#EDEDED" stroke-width="1.0"/>
<line x1="1475.8" y1="512.5" x2="1988.8" y2="512.5" stroke="#EDEDED" stroke-width="1.0"/>
<line x1="1475.8" y1="395.4" x2="1988.8" y2="395.4" stroke="#EDEDED" stroke-width="1.0"/>
<line x1="1475.8" y1="278.3" x2="1988.8" y2="278.3" stroke="#EDEDED" stroke-width="1.0"/>
<line x1="1475.8" y1="161.2" x2="1988.8" y2="161.2" stroke="#EDEDED" stroke-width="1.0"/>
<line x1="1475.8" y1="688.1" x2="1988.8" y2="688.1" stroke="#EEEEEE" stroke-width="1.9"/>
<line x1="1475.8" y1="571.0" x2="1988.8" y2="571.0" stroke="#EEEEEE" stroke-width="1.9"/>
<line x1="1475.8" y1="453.9" x2="1988.8" y2="453.9" stroke="#EEEEEE" stroke-width="1.9"/>
<line x1="1475.8" y1="336.9" x2="1988.8" y2="336.9" stroke="#EEEEEE" stroke-width="1.9"/>
<line x1="1475.8" y1="219.8" x2="1988.8" y2="219.8" stroke="#EEEEEE" stroke-width="1.9"/>
<line x1="1475.8" y1="102.7" x2="1988.8" y2="102.7" stroke="#EEEEEE" stroke-width="1.9"/>
<line x1="1525.4" y1="73.0" x2="1525.4" y2="717.9" stroke="#EEEEEE" stroke-width="1.9"/>
<line x1="1608.2" y1="73.0" x2="1608.2" y2="717.9" stroke="#EEEEEE" stroke-width="1.9"/>
<line x1="1690.9" y1="73.0" x2="1690.9" y2="717.9" stroke="#EEEEEE" stroke-width="1.9"/>
<line x1="1773.7" y1="73.0" x2="1773.7" y2="717.9" stroke="#EEEEEE" stroke-width="1.9"/>
<line x1="1856.4" y1="73.0" x2="1856.4" y2="717.9" stroke="#EEEEEE" stroke-width="1.9"/>
<line x1="1939.2" y1="73.0" x2="1939.2" y2="717.9" stroke="#EEEEEE" stroke-width="1.9"/>
<text x="1467.1" y="703.6" font-size="42.4" fill="#4D4D4D" text-anchor="end">0.2</text>
<text x="1467.1" y="586.5" font-size="42.4" fill="#4D4D4D" text-anchor="end">0.3</text>
<text x="1467.1" y="469.4" font-size="42.4" fill="#4D4D4D" text-anchor="end">0.4</text>
<text x="1467.1" y="352.3" font-size="42.4" fill="#4D4D4D" text-anchor="end">0.5</text>
<text x="1467.1" y="235.2" font-size="42.4" fill="#4D4D4D" text-anchor="end">0.6</text>
<text x="1467.1" y="118.2" font-size="42.4" fill="#4D4D4D" text-anchor="end">0.7</text>
<text transform="translate(1383.4,395.4) rotate(-90)" font-size="53.0" fill="#000" text-anchor="middle">MCC</text>
<text transform="translate(1540.9,727.4) rotate(-90)" font-size="42.4" fill="#4D4D4D" text-anchor="end">Non-spatial</text>
<text transform="translate(1623.6,727.4) rotate(-90)" font-size="42.4" fill="#4D4D4D" text-anchor="end">Non-spatial → Harmony</text>
<text transform="translate(1706.4,727.4) rotate(-90)" font-size="42.4" fill="#4D4D4D" text-anchor="end">BayesSpace</text>
<text transform="translate(1789.1,727.4) rotate(-90)" font-size="42.4" fill="#4D4D4D" text-anchor="end">Harmony → BayesSpace</text>
<text transform="translate(1871.9,727.4) rotate(-90)" font-size="42.4" fill="#4D4D4D" text-anchor="end">BANKSY</text>
<text transform="translate(1954.6,727.4) rotate(-90)" font-size="42.4" fill="#FF0000" text-anchor="end">BANKSY → Harmony</text>
<line x1="1525.4" y1="343.8" x2="1525.4" y2="403.9" stroke="#222" stroke-width="1.8"/>
<line x1="1525.4" y1="519.8" x2="1525.4" y2="618.5" stroke="#222" stroke-width="1.8"/>
<rect x="1496.5" y="403.9" width="57.9" height="115.9" fill="none" stroke="#222" stroke-width="1.8"/>
<line x1="1496.5" y1="437.2" x2="1554.4" y2="437.2" stroke="#222" stroke-width="3.6"/>
<line x1="1608.2" y1="356.0" x2="1608.2" y2="376.7" stroke="#222" stroke-width="1.8"/>
<line x1="1608.2" y1="538.9" x2="1608.2" y2="570.2" stroke="#222" stroke-width="1.8"/>
<rect x="1579.2" y="376.7" width="57.9" height="162.2" fill="none" stroke="#222" stroke-width="1.8"/>
<line x1="1579.2" y1="415.8" x2="1637.1" y2="415.8" stroke="#222" stroke-width="3.6"/>
<line x1="1690.9" y1="293.1" x2="1690.9" y2="339.8" stroke="#222" stroke-width="1.8"/>
<line x1="1690.9" y1="506.3" x2="1690.9" y2="629.4" stroke="#222" stroke-width="1.8"/>
<rect x="1662.0" y="339.8" width="57.9" height="166.5" fill="none" stroke="#222" stroke-width="1.8"/>
<line x1="1662.0" y1="449.4" x2="1719.9" y2="449.4" stroke="#222" stroke-width="3.6"/>
<line x1="1773.7" y1="266.0" x2="1773.7" y2="349.2" stroke="#222" stroke-width="1.8"/>
<line x1="1773.7" y1="607.1" x2="1773.7" y2="682.7" stroke="#222" stroke-width="1.8"/>
<rect x="1744.7" y="349.2" width="57.9" height="257.9" fill="none" stroke="#222" stroke-width="1.8"/>
<line x1="1744.7" y1="389.6" x2="1802.6" y2="389.6" stroke="#222" stroke-width="3.6"/>
<line x1="1856.4" y1="239.4" x2="1856.4" y2="365.7" stroke="#222" stroke-width="1.8"/>
<line x1="1856.4" y1="520.6" x2="1856.4" y2="604.8" stroke="#222" stroke-width="1.8"/>
<rect x="1827.5" y="365.7" width="57.9" height="154.9" fill="none" stroke="#222" stroke-width="1.8"/>
<line x1="1827.5" y1="430.5" x2="1885.4" y2="430.5" stroke="#222" stroke-width="3.6"/>
<line x1="1939.2" y1="139.8" x2="1939.2" y2="192.6" stroke="#222" stroke-width="1.8"/>
<line x1="1939.2" y1="277.5" x2="1939.2" y2="293.3" stroke="#222" stroke-width="1.8"/>
<rect x="1910.2" y="192.6" width="57.9" height="84.9" fill="none" stroke="#222" stroke-width="1.8"/>
<line x1="1910.2" y1="238.7" x2="1968.1" y2="238.7" stroke="#222" stroke-width="3.6"/>
<circle cx="1521.6" cy="445.6" r="4.55" fill="#1A1A1A" fill-opacity="0.8" stroke="#000000" stroke-opacity="0.8" stroke-width="1.3"/>
<circle cx="1521.9" cy="459.2" r="4.55" fill="#F2C300" fill-opacity="0.8" stroke="#BD9100" stroke-opacity="0.8" stroke-width="1.3"/>
<circle cx="1523.1" cy="408.3" r="4.55" fill="#8B5BA1" fill-opacity="0.8" stroke="#5D3576" stroke-opacity="0.8" stroke-width="1.3"/>
<circle cx="1523.6" cy="428.9" r="4.55" fill="#F08100" fill-opacity="0.8" stroke="#BC6000" stroke-opacity="0.8" stroke-width="1.3"/>
<circle cx="1524.3" cy="618.5" r="4.55" fill="#A2C7EF" fill-opacity="0.8" stroke="#7BA2D0" stroke-opacity="0.8" stroke-width="1.3"/>
<circle cx="1524.8" cy="571.2" r="4.55" fill="#D00031" fill-opacity="0.8" stroke="#770025" stroke-opacity="0.8" stroke-width="1.3"/>
<circle cx="1525.5" cy="541.4" r="4.55" fill="#C4B47E" fill-opacity="0.8" stroke="#988857" stroke-opacity="0.8" stroke-width="1.3"/>
<circle cx="1526.0" cy="512.3" r="4.55" fill="#8B8B8B" fill-opacity="0.8" stroke="#5E5E5E" stroke-opacity="0.8" stroke-width="1.3"/>
<circle cx="1527.2" cy="343.8" r="4.55" fill="#007D45" fill-opacity="0.8" stroke="#00532D" stroke-opacity="0.8" stroke-width="1.3"/>
<circle cx="1527.7" cy="390.6" r="4.55" fill="#E88DB6" fill-opacity="0.8" stroke="#B86A90" stroke-opacity="0.8" stroke-width="1.3"/>
<circle cx="1528.4" cy="381.4" r="4.55" fill="#0060B5" fill-opacity="0.8" stroke="#004181" stroke-opacity="0.8" stroke-width="1.3"/>
<circle cx="1529.2" cy="423.3" r="4.55" fill="#F19072" fill-opacity="0.8" stroke="#C67055" stroke-opacity="0.8" stroke-width="1.3"/>
<circle cx="1604.5" cy="403.4" r="4.55" fill="#1A1A1A" fill-opacity="0.8" stroke="#000000" stroke-opacity="0.8" stroke-width="1.3"/>
<circle cx="1604.1" cy="367.3" r="4.55" fill="#F2C300" fill-opacity="0.8" stroke="#BD9100" stroke-opacity="0.8" stroke-width="1.3"/>
<circle cx="1605.6" cy="428.1" r="4.55" fill="#8B5BA1" fill-opacity="0.8" stroke="#5D3576" stroke-opacity="0.8" stroke-width="1.3"/>
<circle cx="1606.3" cy="494.8" r="4.55" fill="#F08100" fill-opacity="0.8" stroke="#BC6000" stroke-opacity="0.8" stroke-width="1.3"/>
<circle cx="1607.3" cy="570.2" r="4.55" fill="#A2C7EF" fill-opacity="0.8" stroke="#7BA2D0" stroke-opacity="0.8" stroke-width="1.3"/>
<circle cx="1608.0" cy="535.2" r="4.55" fill="#D00031" fill-opacity="0.8" stroke="#770025" stroke-opacity="0.8" stroke-width="1.3"/>
<circle cx="1608.9" cy="548.7" r="4.55" fill="#C4B47E" fill-opacity="0.8" stroke="#988857" stroke-opacity="0.8" stroke-width="1.3"/>
<circle cx="1609.1" cy="561.4" r="4.55" fill="#8B8B8B" fill-opacity="0.8" stroke="#5E5E5E" stroke-opacity="0.8" stroke-width="1.3"/>
<circle cx="1610.6" cy="367.3" r="4.55" fill="#007D45" fill-opacity="0.8" stroke="#00532D" stroke-opacity="0.8" stroke-width="1.3"/>
<circle cx="1610.6" cy="355.7" r="4.55" fill="#E88DB6" fill-opacity="0.8" stroke="#B86A90" stroke-opacity="0.8" stroke-width="1.3"/>
<circle cx="1611.3" cy="382.6" r="4.55" fill="#0060B5" fill-opacity="0.8" stroke="#004181" stroke-opacity="0.8" stroke-width="1.3"/>
<circle cx="1611.7" cy="379.8" r="4.55" fill="#F19072" fill-opacity="0.8" stroke="#C67055" stroke-opacity="0.8" stroke-width="1.3"/>
<circle cx="1687.0" cy="462.3" r="4.55" fill="#1A1A1A" fill-opacity="0.8" stroke="#000000" stroke-opacity="0.8" stroke-width="1.3"/>
<circle cx="1687.3" cy="480.2" r="4.55" fill="#F2C300" fill-opacity="0.8" stroke="#BD9100" stroke-opacity="0.8" stroke-width="1.3"/>
<circle cx="1687.9" cy="436.8" r="4.55" fill="#8B5BA1" fill-opacity="0.8" stroke="#5D3576" stroke-opacity="0.8" stroke-width="1.3"/>
<circle cx="1688.8" cy="358.3" r="4.55" fill="#F08100" fill-opacity="0.8" stroke="#BC6000" stroke-opacity="0.8" stroke-width="1.3"/>
<circle cx="1689.5" cy="629.4" r="4.55" fill="#A2C7EF" fill-opacity="0.8" stroke="#7BA2D0" stroke-opacity="0.8" stroke-width="1.3"/>
<circle cx="1690.4" cy="603.8" r="4.55" fill="#D00031" fill-opacity="0.8" stroke="#770025" stroke-opacity="0.8" stroke-width="1.3"/>
<circle cx="1691.0" cy="505.0" r="4.55" fill="#C4B47E" fill-opacity="0.8" stroke="#988857" stroke-opacity="0.8" stroke-width="1.3"/>
<circle cx="1691.6" cy="506.3" r="4.55" fill="#8B8B8B" fill-opacity="0.8" stroke="#5E5E5E" stroke-opacity="0.8" stroke-width="1.3"/>
<circle cx="1692.5" cy="295.5" r="4.55" fill="#007D45" fill-opacity="0.8" stroke="#00532D" stroke-opacity="0.8" stroke-width="1.3"/>
<circle cx="1693.2" cy="326.0" r="4.55" fill="#E88DB6" fill-opacity="0.8" stroke="#B86A90" stroke-opacity="0.8" stroke-width="1.3"/>
<circle cx="1694.1" cy="343.8" r="4.55" fill="#0060B5" fill-opacity="0.8" stroke="#004181" stroke-opacity="0.8" stroke-width="1.3"/>
<circle cx="1694.7" cy="291.5" r="4.55" fill="#F19072" fill-opacity="0.8" stroke="#C67055" stroke-opacity="0.8" stroke-width="1.3"/>
<circle cx="1769.8" cy="392.8" r="4.55" fill="#1A1A1A" fill-opacity="0.8" stroke="#000000" stroke-opacity="0.8" stroke-width="1.3"/>
<circle cx="1770.4" cy="403.8" r="4.55" fill="#F2C300" fill-opacity="0.8" stroke="#BD9100" stroke-opacity="0.8" stroke-width="1.3"/>
<circle cx="1771.1" cy="316.5" r="4.55" fill="#8B5BA1" fill-opacity="0.8" stroke="#5D3576" stroke-opacity="0.8" stroke-width="1.3"/>
<circle cx="1772.1" cy="266.0" r="4.55" fill="#F08100" fill-opacity="0.8" stroke="#BC6000" stroke-opacity="0.8" stroke-width="1.3"/>
<circle cx="1773.0" cy="682.7" r="4.55" fill="#A2C7EF" fill-opacity="0.8" stroke="#7BA2D0" stroke-opacity="0.8" stroke-width="1.3"/>
<circle cx="1773.0" cy="634.7" r="4.55" fill="#D00031" fill-opacity="0.8" stroke="#770025" stroke-opacity="0.8" stroke-width="1.3"/>
<circle cx="1774.1" cy="605.6" r="4.55" fill="#C4B47E" fill-opacity="0.8" stroke="#988857" stroke-opacity="0.8" stroke-width="1.3"/>
<circle cx="1774.1" cy="610.0" r="4.55" fill="#8B8B8B" fill-opacity="0.8" stroke="#5E5E5E" stroke-opacity="0.8" stroke-width="1.3"/>
<circle cx="1776.0" cy="352.5" r="4.55" fill="#007D45" fill-opacity="0.8" stroke="#00532D" stroke-opacity="0.8" stroke-width="1.3"/>
<circle cx="1776.0" cy="352.3" r="4.55" fill="#E88DB6" fill-opacity="0.8" stroke="#B86A90" stroke-opacity="0.8" stroke-width="1.3"/>
<circle cx="1776.9" cy="386.3" r="4.55" fill="#0060B5" fill-opacity="0.8" stroke="#004181" stroke-opacity="0.8" stroke-width="1.3"/>
<circle cx="1777.5" cy="340.7" r="4.55" fill="#F19072" fill-opacity="0.8" stroke="#C67055" stroke-opacity="0.8" stroke-width="1.3"/>
<circle cx="1852.6" cy="397.5" r="4.55" fill="#1A1A1A" fill-opacity="0.8" stroke="#000000" stroke-opacity="0.8" stroke-width="1.3"/>
<circle cx="1853.2" cy="399.1" r="4.55" fill="#F2C300" fill-opacity="0.8" stroke="#BD9100" stroke-opacity="0.8" stroke-width="1.3"/>
<circle cx="1853.9" cy="371.6" r="4.55" fill="#8B5BA1" fill-opacity="0.8" stroke="#5D3576" stroke-opacity="0.8" stroke-width="1.3"/>
<circle cx="1854.2" cy="345.7" r="4.55" fill="#F08100" fill-opacity="0.8" stroke="#BC6000" stroke-opacity="0.8" stroke-width="1.3"/>
<circle cx="1854.9" cy="460.6" r="4.55" fill="#A2C7EF" fill-opacity="0.8" stroke="#7BA2D0" stroke-opacity="0.8" stroke-width="1.3"/>
<circle cx="1855.5" cy="480.1" r="4.55" fill="#D00031" fill-opacity="0.8" stroke="#770025" stroke-opacity="0.8" stroke-width="1.3"/>
<circle cx="1856.5" cy="239.4" r="4.55" fill="#C4B47E" fill-opacity="0.8" stroke="#988857" stroke-opacity="0.8" stroke-width="1.3"/>
<circle cx="1857.1" cy="319.8" r="4.55" fill="#8B8B8B" fill-opacity="0.8" stroke="#5E5E5E" stroke-opacity="0.8" stroke-width="1.3"/>
<circle cx="1857.5" cy="604.8" r="4.55" fill="#007D45" fill-opacity="0.8" stroke="#00532D" stroke-opacity="0.8" stroke-width="1.3"/>
<circle cx="1858.8" cy="534.8" r="4.55" fill="#E88DB6" fill-opacity="0.8" stroke="#B86A90" stroke-opacity="0.8" stroke-width="1.3"/>
<circle cx="1859.1" cy="515.7" r="4.55" fill="#0060B5" fill-opacity="0.8" stroke="#004181" stroke-opacity="0.8" stroke-width="1.3"/>
<circle cx="1860.4" cy="547.8" r="4.55" fill="#F19072" fill-opacity="0.8" stroke="#C67055" stroke-opacity="0.8" stroke-width="1.3"/>
<circle cx="1935.2" cy="207.1" r="4.55" fill="#1A1A1A" fill-opacity="0.8" stroke="#000000" stroke-opacity="0.8" stroke-width="1.3"/>
<circle cx="1935.2" cy="243.8" r="4.55" fill="#F2C300" fill-opacity="0.8" stroke="#BD9100" stroke-opacity="0.8" stroke-width="1.3"/>
<circle cx="1936.6" cy="419.1" r="4.55" fill="#8B5BA1" fill-opacity="0.8" stroke="#5D3576" stroke-opacity="0.8" stroke-width="1.3"/>
<circle cx="1937.2" cy="455.0" r="4.55" fill="#F08100" fill-opacity="0.8" stroke="#BC6000" stroke-opacity="0.8" stroke-width="1.3"/>
<circle cx="1938.6" cy="272.1" r="4.55" fill="#D00031" fill-opacity="0.8" stroke="#770025" stroke-opacity="0.8" stroke-width="1.3"/>
<circle cx="1939.1" cy="293.3" r="4.55" fill="#C4B47E" fill-opacity="0.8" stroke="#988857" stroke-opacity="0.8" stroke-width="1.3"/>
<circle cx="1939.4" cy="238.7" r="4.55" fill="#8B8B8B" fill-opacity="0.8" stroke="#5E5E5E" stroke-opacity="0.8" stroke-width="1.3"/>
<circle cx="1939.4" cy="192.9" r="4.55" fill="#007D45" fill-opacity="0.8" stroke="#00532D" stroke-opacity="0.8" stroke-width="1.3"/>
<circle cx="1941.4" cy="139.8" r="4.55" fill="#E88DB6" fill-opacity="0.8" stroke="#B86A90" stroke-opacity="0.8" stroke-width="1.3"/>
<circle cx="1942.0" cy="163.8" r="4.55" fill="#0060B5" fill-opacity="0.8" stroke="#004181" stroke-opacity="0.8" stroke-width="1.3"/>
<circle cx="1942.8" cy="192.1" r="4.55" fill="#F19072" fill-opacity="0.8" stroke="#C67055" stroke-opacity="0.8" stroke-width="1.3"/>
<line x1="1496.5" y1="460.9" x2="1554.4" y2="460.9" stroke="#CC0010" stroke-width="2.6" stroke-dasharray="11.58 11.58"/>
<line x1="1579.2" y1="449.3" x2="1637.1" y2="449.3" stroke="#CC0010" stroke-width="2.6" stroke-dasharray="11.58 11.58"/>
<line x1="1662.0" y1="437.1" x2="1719.9" y2="437.1" stroke="#CC0010" stroke-width="2.6" stroke-dasharray="11.58 11.58"/>
<line x1="1744.7" y1="445.6" x2="1802.6" y2="445.6" stroke="#CC0010" stroke-width="2.6" stroke-dasharray="11.58 11.58"/>
<line x1="1827.5" y1="434.4" x2="1885.4" y2="434.4" stroke="#CC0010" stroke-width="2.6" stroke-dasharray="11.58 11.58"/>
<line x1="1910.2" y1="254.8" x2="1968.1" y2="254.8" stroke="#CC0010" stroke-width="2.6" stroke-dasharray="11.58 11.58"/>
<path d="M1475.8 73.0 V717.9 H1988.8" fill="none" stroke="#000" stroke-width="2.1" stroke-linecap="round" stroke-linejoin="round"/>
<text x="2018" y="209.9" font-size="27.8" fill="#000">Sample</text>
<circle cx="2034.4" cy="242.5" r="4.55" fill="#1A1A1A" fill-opacity="0.8" stroke="#000000" stroke-opacity="0.8" stroke-width="1.3"/>
<text x="2063.4" y="252.6" font-size="27.6" fill="#000">151507</text>
<circle cx="2034.4" cy="273.9" r="4.55" fill="#F2C300" fill-opacity="0.8" stroke="#BD9100" stroke-opacity="0.8" stroke-width="1.3"/>
<text x="2063.4" y="284.0" font-size="27.6" fill="#000">151508</text>
<circle cx="2034.4" cy="305.3" r="4.55" fill="#8B5BA1" fill-opacity="0.8" stroke="#5D3576" stroke-opacity="0.8" stroke-width="1.3"/>
<text x="2063.4" y="315.4" font-size="27.6" fill="#000">151509</text>
<circle cx="2034.4" cy="336.8" r="4.55" fill="#F08100" fill-opacity="0.8" stroke="#BC6000" stroke-opacity="0.8" stroke-width="1.3"/>
<text x="2063.4" y="346.8" font-size="27.6" fill="#000">151510</text>
<circle cx="2034.4" cy="368.2" r="4.55" fill="#A2C7EF" fill-opacity="0.8" stroke="#7BA2D0" stroke-opacity="0.8" stroke-width="1.3"/>
<text x="2063.4" y="378.2" font-size="27.6" fill="#000">151669</text>
<circle cx="2034.4" cy="399.6" r="4.55" fill="#D00031" fill-opacity="0.8" stroke="#770025" stroke-opacity="0.8" stroke-width="1.3"/>
<text x="2063.4" y="409.7" font-size="27.6" fill="#000">151670</text>
<circle cx="2034.4" cy="431.0" r="4.55" fill="#C4B47E" fill-opacity="0.8" stroke="#988857" stroke-opacity="0.8" stroke-width="1.3"/>
<text x="2063.4" y="441.1" font-size="27.6" fill="#000">151671</text>
<circle cx="2034.4" cy="462.4" r="4.55" fill="#8B8B8B" fill-opacity="0.8" stroke="#5E5E5E" stroke-opacity="0.8" stroke-width="1.3"/>
<text x="2063.4" y="472.5" font-size="27.6" fill="#000">151672</text>
<circle cx="2034.4" cy="493.9" r="4.55" fill="#007D45" fill-opacity="0.8" stroke="#00532D" stroke-opacity="0.8" stroke-width="1.3"/>
<text x="2063.4" y="503.9" font-size="27.6" fill="#000">151673</text>
<circle cx="2034.4" cy="525.3" r="4.55" fill="#E88DB6" fill-opacity="0.8" stroke="#B86A90" stroke-opacity="0.8" stroke-width="1.3"/>
<text x="2063.4" y="535.3" font-size="27.6" fill="#000">151674</text>
<circle cx="2034.4" cy="556.7" r="4.55" fill="#0060B5" fill-opacity="0.8" stroke="#004181" stroke-opacity="0.8" stroke-width="1.3"/>
<text x="2063.4" y="566.8" font-size="27.6" fill="#000">151675</text>
<circle cx="2034.4" cy="588.1" r="4.55" fill="#F19072" fill-opacity="0.8" stroke="#C67055" stroke-opacity="0.8" stroke-width="1.3"/>
<text x="2063.4" y="598.2" font-size="27.6" fill="#000">151676</text>
</svg>
</body></html>
